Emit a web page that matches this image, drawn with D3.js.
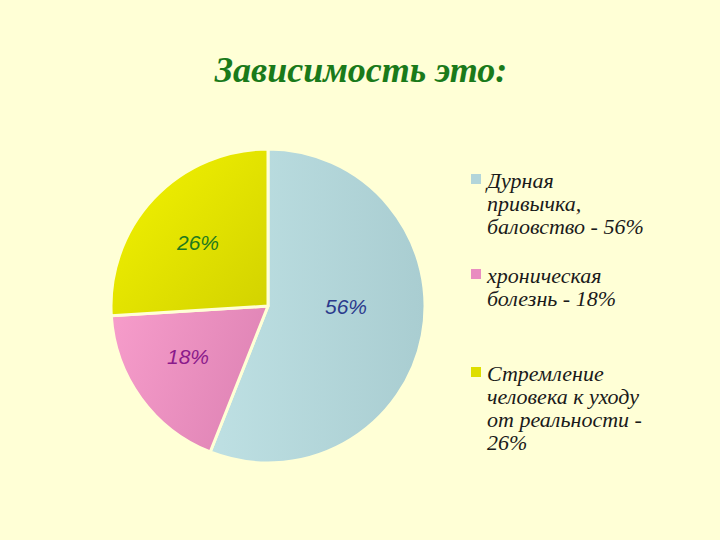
<!DOCTYPE html>
<html><head><meta charset="utf-8">
<script src="https://cdn.jsdelivr.net/npm/d3@7"></script>
<style>html,body{margin:0;padding:0;background:#FFFFD6;}svg{display:block;}</style>
</head><body>
<svg id="chart" width="720" height="540"></svg>
<script>
const title = "Зависимость это:";
const categories = ["Дурная привычка, баловство - 56%", "хроническая болезнь - 18%", "Стремление человека к уходу от реальности - 26%"];
const legendLines = [["Дурная", "привычка,", "баловство - 56%"], ["хроническая", "болезнь - 18%"], ["Стремление", "человека к уходу", "от реальности -", "26%"]];
const values = [56, 18, 26];
const sliceLabels = ["56%", "18%", "26%"];

const svg = d3.select("#chart");
svg.append("rect").attr("width",720).attr("height",540).attr("fill","#FFFFD6");

const defs = svg.append("defs");
const grads = [
  {id:"g0", x1:0,y1:0,x2:1,y2:0, stops:["#BEE0E3","#A9CDD1"]},
  {id:"g1", x1:0,y1:0,x2:1,y2:0.3, stops:["#F79DCB","#E085B6"]},
  {id:"g2", x1:0,y1:0,x2:1,y2:1, stops:["#F4F400","#D2D200"]}
];
grads.forEach(g=>{
  const lg = defs.append("linearGradient").attr("id",g.id)
    .attr("x1",g.x1).attr("y1",g.y1).attr("x2",g.x2).attr("y2",g.y2);
  lg.append("stop").attr("offset","0%").attr("stop-color",g.stops[0]);
  lg.append("stop").attr("offset","100%").attr("stop-color",g.stops[1]);
});
const legendColors = ["#B2D5DA","#E98DC0","#DEDE00"];
const labelColors = ["#2B3A8C","#8B1A8B","#1E7A1E"];

svg.append("text").attr("x",361).attr("y",82).attr("text-anchor","middle")
  .attr("font-family","'Liberation Serif','Times New Roman',serif")
  .attr("font-style","italic").attr("font-weight","bold").attr("font-size",36)
  .attr("fill","#1A7A1A").text(title);

const cx = 268, cy = 306, r = 157;
const pie = d3.pie().sort(null).value(d=>d);
const arcs = pie(values);
const arc = d3.arc().innerRadius(0).outerRadius(r);
const g = svg.append("g").attr("transform",`translate(${cx},${cy})`);
g.selectAll("path").data(arcs).enter().append("path")
  .attr("d",arc).attr("fill",(d,i)=>`url(#g${i})`)
  .attr("stroke","#FFFFD6").attr("stroke-width",3).attr("stroke-linejoin","round");

const labelPos = [[78,8],[-80,58],[-70,-56]];
g.selectAll("text.lbl").data(arcs).enter().append("text")
  .attr("x",(d,i)=>labelPos[i][0]).attr("y",(d,i)=>labelPos[i][1])
  .attr("text-anchor","middle").attr("font-family","'Liberation Sans',Arial,sans-serif")
  .attr("font-style","italic")
  .attr("font-size",21).attr("fill",(d,i)=>labelColors[i]).text((d,i)=>sliceLabels[i]);

const legendY = [188, 283, 381];
const leg = svg.append("g");
categories.forEach((c,i)=>{
  leg.append("rect").attr("x",471).attr("y",legendY[i]-14).attr("width",10).attr("height",10)
    .attr("fill",legendColors[i]);
  const t = leg.append("text").attr("x",487).attr("y",legendY[i])
    .attr("font-family","'Liberation Serif','Times New Roman',serif")
    .attr("font-style","italic").attr("font-size",22).attr("fill","#1a1a1a");
  legendLines[i].forEach((ln,j)=>{
    t.append("tspan").attr("x",487).attr("dy", j===0?0:23).text(ln);
  });
});
</script>
</body></html>
